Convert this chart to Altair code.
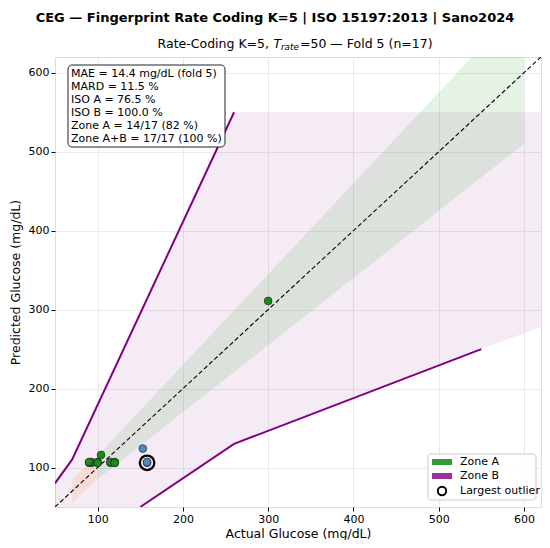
import altair as alt
import pandas as pd

FONT = "DejaVu Sans"

# ---- data ----
actual = [90, 93, 93, 100, 100, 104, 115, 115, 120, 120, 90, 100, 120, 300, 153, 158, 158]
predicted = [106, 106, 107, 106, 107, 116, 106, 107, 106, 107, 107, 106, 106, 311, 124, 106, 107]
zone = ["A"] * 14 + ["B"] * 3
outlier_x = [158]
outlier_y = [106]

# Zone B boundary lines
b_upper_x = [50, 70, 260]
b_upper_y = [80, 110, 550]
b_lower_x = [150, 260, 550]
b_lower_y = [50, 130, 250]

# Zone B shaded region
b_band_x = [50, 70, 150, 260, 550, 620]
b_band_lo = [50, 50, 50, 130, 250, 278]
b_band_hi = [80, 110, 295, 550, 550, 550]

# ISO zone A bands
a_band_x = [100, 600]
a_band_lo = [85, 510]
a_band_hi = [115, 690]
low_band_x = [70, 100]
low_band_lo = [55, 85]
low_band_hi = [85, 115]

diag = [50, 620]

stats_lines = [
    "MAE = 14.4 mg/dL (fold 5)",
    "MARD = 11.5 %",
    "ISO A = 76.5 %",
    "ISO B = 100.0 %",
    "Zone A = 14/17 (82 %)",
    "Zone A+B = 17/17 (100 %)",
]
legend_labels = ["Zone A", "Zone B", "Largest outlier"]

main_title = "CEG \u2014 Fingerprint Rate Coding K=5 | ISO 15197:2013 | Sano2024"

W, H = 486, 450

xs = alt.Scale(domain=[50, 620], nice=False, zero=False)
ys = alt.Scale(domain=[50, 620], nice=False, zero=False)
xaxis = alt.Axis(values=[100, 200, 300, 400, 500, 600], title="Actual Glucose (mg/dL)",
                 grid=True, gridColor="#e6e6e6", gridWidth=0.8, domain=False,
                 tickColor="black", tickSize=4, tickWidth=1, labelPadding=2,
                 labelFontSize=11, titleFontSize=12.5, titleFontWeight="normal",
                 labelColor="black", titleColor="black", titlePadding=3, labelFont=FONT, titleFont=FONT)
yaxis = alt.Axis(values=[100, 200, 300, 400, 500, 600], title="Predicted Glucose (mg/dL)",
                 grid=True, gridColor="#e6e6e6", gridWidth=0.8, domain=False,
                 tickColor="black", tickSize=4, tickWidth=1, labelPadding=2,
                 labelFontSize=11, titleFontSize=12.5, titleFontWeight="normal",
                 labelColor="black", titleColor="black", titlePadding=6, labelFont=FONT, titleFont=FONT)

def X(f):
    return alt.X(f, type="quantitative", scale=xs, axis=xaxis)

def Y(f):
    return alt.Y(f, type="quantitative", scale=ys, axis=yaxis)

def Y2(f):
    return alt.Y2(f)

bband = alt.Chart(pd.DataFrame({"x": b_band_x, "lo": b_band_lo, "hi": b_band_hi})).mark_area(
    color="purple", opacity=0.08, clip=True).encode(x=X("x"), y=Y("lo"), y2=Y2("hi"))

aband = alt.Chart(pd.DataFrame({"x": a_band_x, "lo": a_band_lo, "hi": a_band_hi})).mark_area(
    color="#2ca02c", opacity=0.12, clip=True).encode(x=X("x"), y=Y("lo"), y2=Y2("hi"))

lowband = alt.Chart(pd.DataFrame({"x": low_band_x, "lo": low_band_lo, "hi": low_band_hi})).mark_area(
    color="#ff7f0e", opacity=0.12, clip=True).encode(x=X("x"), y=Y("lo"), y2=Y2("hi"))

bup = alt.Chart(pd.DataFrame({"x": b_upper_x, "y": b_upper_y})).mark_line(
    color="#800080", strokeWidth=2, clip=True).encode(x=X("x"), y=Y("y"))
blo = alt.Chart(pd.DataFrame({"x": b_lower_x, "y": b_lower_y})).mark_line(
    color="#800080", strokeWidth=2, clip=True).encode(x=X("x"), y=Y("y"))

diag_line = alt.Chart(pd.DataFrame({"x": diag, "y": diag})).mark_line(
    color="black", strokeWidth=1.1, strokeDash=[4.5, 2.5], clip=True).encode(x=X("x"), y=Y("y"))

pts = alt.Chart(pd.DataFrame({"x": actual, "y": predicted, "zone": zone})).mark_point(
    filled=True, size=60, stroke="#222222", strokeWidth=0.7, opacity=1).encode(
    x=X("x"), y=Y("y"),
    fill=alt.Fill("zone:N", scale=alt.Scale(domain=["A", "B"], range=["#1a8c1a", "#4f8bbf"]), legend=None))

outl = alt.Chart(pd.DataFrame({"x": outlier_x, "y": outlier_y})).mark_point(
    filled=False, size=210, color="black", strokeWidth=2.3, opacity=1).encode(x=X("x"), y=Y("y"))

base1 = alt.Chart(pd.DataFrame({"a": [0]}))

# stats box
box = base1.mark_rect(
    fill="white", stroke="#222222", strokeWidth=1, cornerRadius=4).encode(
    x=alt.value(13), x2=alt.value(170), y=alt.value(8), y2=alt.value(90))
stats = base1.mark_text(
    align="left", baseline="top", font=FONT, fontSize=11, lineHeight=12.9, color="black",
    lineBreak="\n", text="\n".join(stats_lines)).encode(x=alt.value(16), y=alt.value(11))

# legend
leg_box = base1.mark_rect(
    fill="white", fillOpacity=0.85, stroke="#cccccc", strokeWidth=1, cornerRadius=3).encode(
    x=alt.value(373), x2=alt.value(481), y=alt.value(397), y2=alt.value(443))
patch_a = base1.mark_rect(fill="#339933").encode(
    x=alt.value(377), x2=alt.value(397), y=alt.value(402), y2=alt.value(408))
patch_b = base1.mark_rect(fill="#993399").encode(
    x=alt.value(377), x2=alt.value(397), y=alt.value(416), y2=alt.value(422))
leg_circ = base1.mark_point(
    filled=False, size=70, color="black", strokeWidth=2, opacity=1).encode(
    x=alt.value(387), y=alt.value(434))
leg_texts = [
    base1.mark_text(align="left", baseline="middle", font=FONT, fontSize=11, color="black",
                    text=lab).encode(x=alt.value(405), y=alt.value(yy))
    for lab, yy in zip(legend_labels, [405, 419, 434])
]

# titles
title_main = base1.mark_text(
    align="center", baseline="middle", font=FONT, fontSize=13, fontWeight="bold", color="black",
    text=main_title).encode(x=alt.value(220), y=alt.value(-39))
sub1 = base1.mark_text(
    align="right", baseline="middle", font=FONT, fontSize=12.5, color="black",
    text="Rate-Coding K=5,").encode(x=alt.value(214), y=alt.value(-13))
sub2 = base1.mark_text(
    align="left", baseline="middle", font=FONT, fontSize=12.5, fontStyle="italic", color="black",
    text="T").encode(x=alt.value(218.5), y=alt.value(-13))
sub3 = base1.mark_text(
    align="left", baseline="middle", font=FONT, fontSize=8.8, fontStyle="italic", color="black",
    text="rate").encode(x=alt.value(226), y=alt.value(-10))
sub4 = base1.mark_text(
    align="left", baseline="middle", font=FONT, fontSize=12.5, color="black",
    text="=50 \u2014 Fold 5 (n=17)").encode(x=alt.value(245), y=alt.value(-13))

chart = alt.layer(
    bband, aband, lowband, bup, blo, diag_line, pts, outl,
    box, stats, leg_box, patch_a, patch_b, leg_circ, *leg_texts,
    title_main, sub1, sub2, sub3, sub4,
).properties(
    width=W, height=H,
    autosize=alt.AutoSizeParams(type="none"),
    padding={"left": 47, "top": 49, "right": 1, "bottom": 33},
).configure_view(stroke="black", strokeWidth=1.1).configure(font=FONT)

chart.save("out.html", embed_options={"renderer": "svg", "actions": False})
